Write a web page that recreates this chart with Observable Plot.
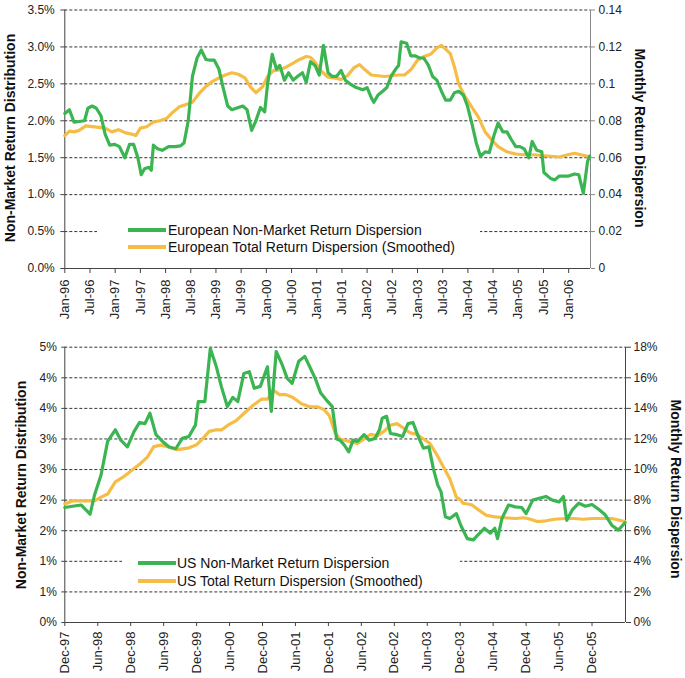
<!DOCTYPE html>
<html><head><meta charset="utf-8">
<script src="https://cdn.jsdelivr.net/npm/d3@7"></script>
<script src="https://cdn.jsdelivr.net/npm/@observablehq/plot@0.6"></script>
<style>
body{margin:0;background:#fff;font-family:"Liberation Sans",Arial,Helvetica,sans-serif;}
#wrap{position:relative;width:685px;height:678px;overflow:hidden;}
.panel{position:absolute;left:0;width:685px;}
.panel g[aria-label="x-axis tick label"]{font-size:13px;}
.title{position:absolute;font-weight:bold;font-size:14px;white-space:nowrap;color:#111;}
.tl{transform:translate(-50%,-50%) rotate(-90deg);}
.tr{transform:translate(-50%,-50%) rotate(90deg);}
.legend{position:absolute;background:#fff;font-size:14px;color:#111;}
.sw{position:absolute;width:38px;height:4px;}
.lt{position:absolute;white-space:nowrap;line-height:16px;}
</style>
</head><body>
<div id="wrap"></div>
<script>
// ---------- European panel data (x = months since Jan-96) ----------
const euTickLabels = ["Jan-96","Jul-96","Jan-97","Jul-97","Jan-98","Jul-98","Jan-99","Jul-99","Jan-00","Jul-00","Jan-01","Jul-01","Jan-02","Jul-02","Jan-03","Jul-03","Jan-04","Jul-04","Jan-05","Jul-05","Jan-06"];
const euLeftTicks = [0,0.5,1,1.5,2,2.5,3,3.5];
const euLeftLabels = ["0.0%","0.5%","1.0%","1.5%","2.0%","2.5%","3.0%","3.5%"];
const euRightLabels = ["0","0.02","0.04","0.06","0.08","0.1","0.12","0.14"];
// Non-market return dispersion (left axis, %)
const euNMMonths = [0,1.1,2.2,3.4,4.7,5.5,6.5,7.5,8.6,9.6,10.7,11.9,13.0,14.3,15.4,16.4,17.4,18.2,19.0,20.0,20.6,21.1,22.1,23.2,24.7,26.3,27.5,28.4,29.4,30.4,31.5,32.5,33.6,34.6,35.6,36.7,37.7,38.8,39.8,40.8,42.4,43.4,44.5,45.5,46.6,47.6,48.3,49.4,50.4,51.2,52.3,53.3,54.4,55.4,56.6,57.5,58.5,59.6,60.6,61.6,62.7,63.7,64.7,65.8,66.8,67.9,69.4,71.0,72.0,73.1,73.6,74.6,75.7,76.7,77.7,78.8,79.5,80.1,81.4,82.4,83.4,84.5,85.5,86.6,87.6,88.6,89.7,90.7,91.8,92.8,93.8,94.9,95.9,97.0,98.0,99.0,100.1,101.1,102.2,103.2,104.3,105.3,106.3,107.4,108.4,109.4,110.5,111.3,112.4,113.6,114.1,115.7,116.7,117.7,118.8,119.8,121.4,122.4,123.5,124.5,125.0];
const euNMValues = [2.10,2.15,1.98,1.99,2.00,2.17,2.20,2.17,2.07,1.82,1.67,1.68,1.65,1.50,1.68,1.68,1.50,1.27,1.35,1.37,1.33,1.67,1.62,1.60,1.65,1.65,1.66,1.70,2.00,2.60,2.85,2.96,2.83,2.82,2.82,2.70,2.45,2.20,2.15,2.17,2.20,2.15,1.87,2.00,2.18,2.12,2.50,2.90,2.70,2.75,2.55,2.65,2.55,2.60,2.65,2.52,2.80,2.75,2.62,3.02,2.65,2.60,2.60,2.68,2.55,2.50,2.45,2.42,2.45,2.30,2.25,2.35,2.40,2.45,2.60,2.70,2.75,3.07,3.05,2.88,2.88,2.85,2.85,2.75,2.60,2.55,2.40,2.28,2.28,2.38,2.40,2.35,2.20,1.95,1.70,1.52,1.58,1.57,1.80,1.97,1.85,1.85,1.75,1.65,1.65,1.62,1.50,1.72,1.60,1.58,1.30,1.22,1.20,1.25,1.25,1.25,1.28,1.27,1.02,1.45,1.52];
// Total return dispersion, smoothed (right axis units)
const euTRMonths = [0,1.1,2.2,3.4,5.0,6.5,8.1,9.6,11.2,12.8,14.3,15.9,16.9,18.0,19.5,21.0,22.6,24.2,25.8,27.3,28.9,30.4,32.0,33.5,35.1,36.7,38.2,39.8,41.3,42.9,44.2,45.5,47.1,48.3,49.7,51.2,52.8,54.4,55.9,57.5,58.5,59.5,61.1,62.7,64.2,65.8,67.3,68.9,70.2,71.5,73.0,74.6,76.2,77.7,79.3,80.9,82.4,84.0,85.5,87.1,88.7,89.7,90.7,91.8,92.8,93.8,95.4,96.9,98.5,100.1,101.7,103.2,105.3,107.4,109.4,111.5,113.6,115.7,117.8,119.8,121.4,122.9,124.5,125.0];
const euTRValues = [0.0720,0.0744,0.0740,0.0748,0.0772,0.0768,0.0764,0.0760,0.0740,0.0752,0.0736,0.0728,0.0720,0.0760,0.0768,0.0792,0.0800,0.0812,0.0848,0.0876,0.0888,0.0900,0.0948,0.0984,0.1012,0.1032,0.1048,0.1060,0.1052,0.1032,0.0984,0.0952,0.0984,0.1040,0.1072,0.1076,0.1092,0.1112,0.1132,0.1148,0.1144,0.1120,0.1068,0.1036,0.1032,0.1024,0.1044,0.1088,0.1104,0.1076,0.1048,0.1044,0.1040,0.1044,0.1048,0.1048,0.1076,0.1128,0.1148,0.1160,0.1196,0.1208,0.1188,0.1164,0.1092,0.1000,0.0928,0.0876,0.0820,0.0740,0.0696,0.0660,0.0632,0.0620,0.0616,0.0616,0.0612,0.0608,0.0604,0.0616,0.0624,0.0616,0.0608,0.0604];

// ---------- US panel data (x = months since Dec-97) ----------
const usTickLabels = ["Dec-97","Jun-98","Dec-98","Jun-99","Dec-99","Jun-00","Dec-00","Jun-01","Dec-01","Jun-02","Dec-02","Jun-03","Dec-03","Jun-04","Dec-04","Jun-05","Dec-05"];
const usLeftTicks = [0,0.5,1,1.5,2,2.5,3,3.5,4,4.5];
const usLeftLabels = ["0%","1%","1%","2%","2%","3%","3%","4%","4%","5%"];
const usRightLabels = ["0%","2%","4%","6%","8%","10%","12%","14%","16%","18%"];
const usNMMonths = [0,1.4,3.0,4.6,5.4,6.6,7.8,9.2,10.2,11.4,12.6,13.6,14.6,15.5,16.6,17.8,19.0,20.2,21.4,22.6,23.8,24.3,25.5,26.5,27.6,28.5,29.6,30.6,31.5,32.6,33.6,34.5,35.6,36.9,37.6,38.5,39.6,40.5,41.4,42.6,43.7,44.6,45.6,46.6,47.6,48.7,49.5,50.1,50.9,51.7,52.5,53.3,54.5,55.4,56.5,57.3,57.8,58.6,59.3,60.5,61.5,62.5,63.4,64.5,65.3,66.3,67.1,67.9,68.5,69.3,70.1,71.3,72.1,73.3,74.4,75.2,76.4,77.5,78.3,78.8,79.6,80.8,82.0,83.2,84.0,85.2,86.4,87.6,88.8,90.0,90.8,91.4,92.4,93.6,94.8,96.0,97.2,98.4,99.6,100.8,102.0];
const usNMValues = [1.88,1.90,1.92,1.77,2.08,2.41,2.96,3.15,2.98,2.87,3.12,3.27,3.25,3.42,3.07,2.96,2.87,2.84,3.01,3.04,3.23,3.61,3.61,4.48,4.18,3.86,3.53,3.68,3.61,4.07,4.10,3.83,3.86,4.18,3.45,4.43,4.21,3.99,3.91,4.27,4.35,4.18,3.99,3.75,3.64,3.53,3.00,2.98,2.90,2.79,2.98,2.96,3.07,2.98,3.01,3.15,3.34,3.37,3.09,3.07,3.04,3.25,3.27,3.01,2.85,2.87,2.52,2.25,2.14,1.73,1.70,1.78,1.59,1.37,1.35,1.43,1.54,1.46,1.54,1.37,1.70,1.92,1.89,1.88,1.78,2.00,2.03,2.06,2.00,1.97,2.06,1.67,1.84,1.95,1.90,1.93,1.85,1.76,1.59,1.51,1.63];
const usTRMonths = [0,1.4,2.6,4.2,5.4,6.6,7.8,9.2,10.6,12.2,13.8,15.0,16.2,17.5,18.7,20.5,22.4,23.9,24.8,26.3,27.6,28.6,29.7,31.2,32.7,34.3,35.8,36.9,37.9,39.1,40.3,41.6,43.1,44.6,46.1,47.3,48.2,49.2,50.1,52.1,53.3,54.5,55.7,56.9,58.1,59.3,60.5,61.7,62.9,64.1,65.3,66.5,67.7,68.9,70.1,71.3,72.1,72.5,74.1,75.2,76.8,78.4,80.0,82.0,83.6,84.8,86.0,87.6,89.2,91.2,92.8,94.4,96.0,97.6,99.6,100.8,102.0];
const usTRValues = [7.75,7.95,7.95,7.95,7.95,8.2,8.4,9.2,9.5,9.95,10.4,10.8,11.5,11.6,11.5,11.3,11.4,11.6,11.9,12.5,12.6,12.6,12.9,13.2,13.7,14.2,14.6,14.6,15.2,14.9,14.9,14.7,14.3,14.1,14.1,13.9,13.5,12.4,12.0,11.8,11.7,12.0,12.3,12.2,12.5,12.9,13.0,12.7,12.4,12.3,12.0,11.7,11.0,10.2,9.4,8.2,8.0,7.8,7.7,7.4,7.0,6.9,6.85,6.8,6.85,6.75,6.6,6.65,6.75,6.8,6.8,6.75,6.8,6.8,6.8,6.7,6.6];

const GREEN = "#3bb552", ORANGE = "#f5bd46";
const zip = (ms, vs) => ms.map((m, i) => ({m, v: vs[i]}));

function panel(o) {
  const xTicks = o.xLabels.map((_, i) => i * 6);
  const xMap = new Map(xTicks.map((t, i) => [t, o.xLabels[i]]));
  const lMap = new Map(o.yTicks.map((t, i) => [t, o.leftLabels[i]]));
  const rMap = new Map(o.yTicks.map((t, i) => [t, o.rightLabels[i]]));
  return Plot.plot({
    width: 685, height: o.height,
    marginLeft: 64.3, marginRight: o.marginRight, marginTop: o.marginTop, marginBottom: o.marginBottom,
    style: {fontSize: "12px", fontFamily: "'Liberation Sans', Arial, sans-serif", color: "#222", background: "#fff"},
    x: {domain: [0, o.xMax]},
    y: {domain: [0, o.yMax]},
    marks: [
      Plot.gridY(o.yTicks.filter(d => d > 0), {stroke: "#333", strokeOpacity: 1, strokeDasharray: "3,2"}),
      Plot.axisY(o.yTicks, {anchor: "left", tickSize: o.lTick, tickPadding: o.lPad, tickFormat: d => lMap.get(d), label: null, stroke: "#444"}),
      Plot.axisY(o.yTicks, {anchor: "right", tickSize: o.rTick, tickPadding: o.rPad, tickFormat: d => rMap.get(d), label: null, stroke: o.rightColor}),
      Plot.axisX(xTicks, {anchor: "bottom", tickRotate: -90, tickSize: o.xTick, tickPadding: o.xPad, tickFormat: d => xMap.get(d), label: null, stroke: "#444"}),
      Plot.ruleX([0], {stroke: "#444"}),
      Plot.ruleX([o.xMax], {stroke: o.rightColor}),
      Plot.ruleY([0], {stroke: "#444"}),
      Plot.line(zip(o.trM, o.trV), {x: "m", y: d => d.v / o.factor, stroke: ORANGE, strokeWidth: 3.2, strokeLinejoin: "round", strokeLinecap: "round"}),
      Plot.line(zip(o.nmM, o.nmV), {x: "m", y: "v", stroke: GREEN, strokeWidth: 3.2, strokeLinejoin: "round", strokeLinecap: "round"})
    ]
  });
}

const wrap = document.getElementById("wrap");
function addPanel(top, svg) {
  const d = document.createElement("div");
  d.className = "panel"; d.style.top = top + "px";
  d.appendChild(svg); wrap.appendChild(d);
}
function addTitle(text, cx, cy, cls) {
  const d = document.createElement("div");
  d.className = "title " + cls; d.textContent = text;
  d.style.left = cx + "px"; d.style.top = cy + "px";
  wrap.appendChild(d);
}
function addLegend(box, items) {
  const d = document.createElement("div");
  d.className = "legend";
  Object.assign(d.style, {left: box.x + "px", top: box.y + "px", width: box.w + "px", height: box.h + "px"});
  items.forEach((it, i) => {
    const cy = box.rows[i];
    const s = document.createElement("div");
    s.className = "sw"; s.style.background = it.color;
    s.style.left = box.swX + "px"; s.style.top = (cy - 2) + "px";
    const t = document.createElement("div");
    t.className = "lt"; t.textContent = it.label;
    t.style.left = box.txtX + "px"; t.style.top = (cy - 8) + "px";
    d.appendChild(s); d.appendChild(t);
  });
  wrap.appendChild(d);
}

addPanel(0, panel({
  height: 336, marginTop: 9.5, marginBottom: 68, marginRight: 95,
  xMax: 125.2, xLabels: euTickLabels, yMax: 3.5, yTicks: euLeftTicks,
  leftLabels: euLeftLabels, rightLabels: euRightLabels, factor: 0.04,
  lTick: 4, lPad: 6, rTick: 4, rPad: 4, xTick: 5, xPad: 6, rightColor: "#888",
  nmM: euNMMonths, nmV: euNMValues, trM: euTRMonths, trV: euTRValues
}));
addPanel(336, panel({
  height: 342, marginTop: 10.7, marginBottom: 56, marginRight: 60,
  xMax: 102.1, xLabels: usTickLabels, yMax: 4.5, yTicks: usLeftTicks,
  leftLabels: usLeftLabels, rightLabels: usRightLabels, factor: 4,
  lTick: 3, lPad: 5, rTick: 5, rPad: 3, xTick: 4, xPad: 5, rightColor: "#444",
  nmM: usNMMonths, nmV: usNMValues, trM: usTRMonths, trV: usTRValues
}));

addTitle("Non-Market Return Distribution", 10, 138, "tl");
addTitle("Monthly Return Dispersion", 640, 138, "tr");
addTitle("Non-Market Return Distribution", 21, 485, "tl");
addTitle("Monthly Return Dispersion", 676, 489, "tr");

addLegend({x: 97, y: 214, w: 383, h: 42, swX: 31, txtX: 71, rows: [15.5, 32.5]}, [
  {color: GREEN, label: "European Non-Market Return Dispersion"},
  {color: ORANGE, label: "European Total Return Dispersion (Smoothed)"}
]);
addLegend({x: 122, y: 548, w: 338, h: 40, swX: 16, txtX: 55, rows: [14.7, 33]}, [
  {color: GREEN, label: "US Non-Market Return Dispersion"},
  {color: ORANGE, label: "US Total Return Dispersion (Smoothed)"}
]);
</script>
</body></html>
